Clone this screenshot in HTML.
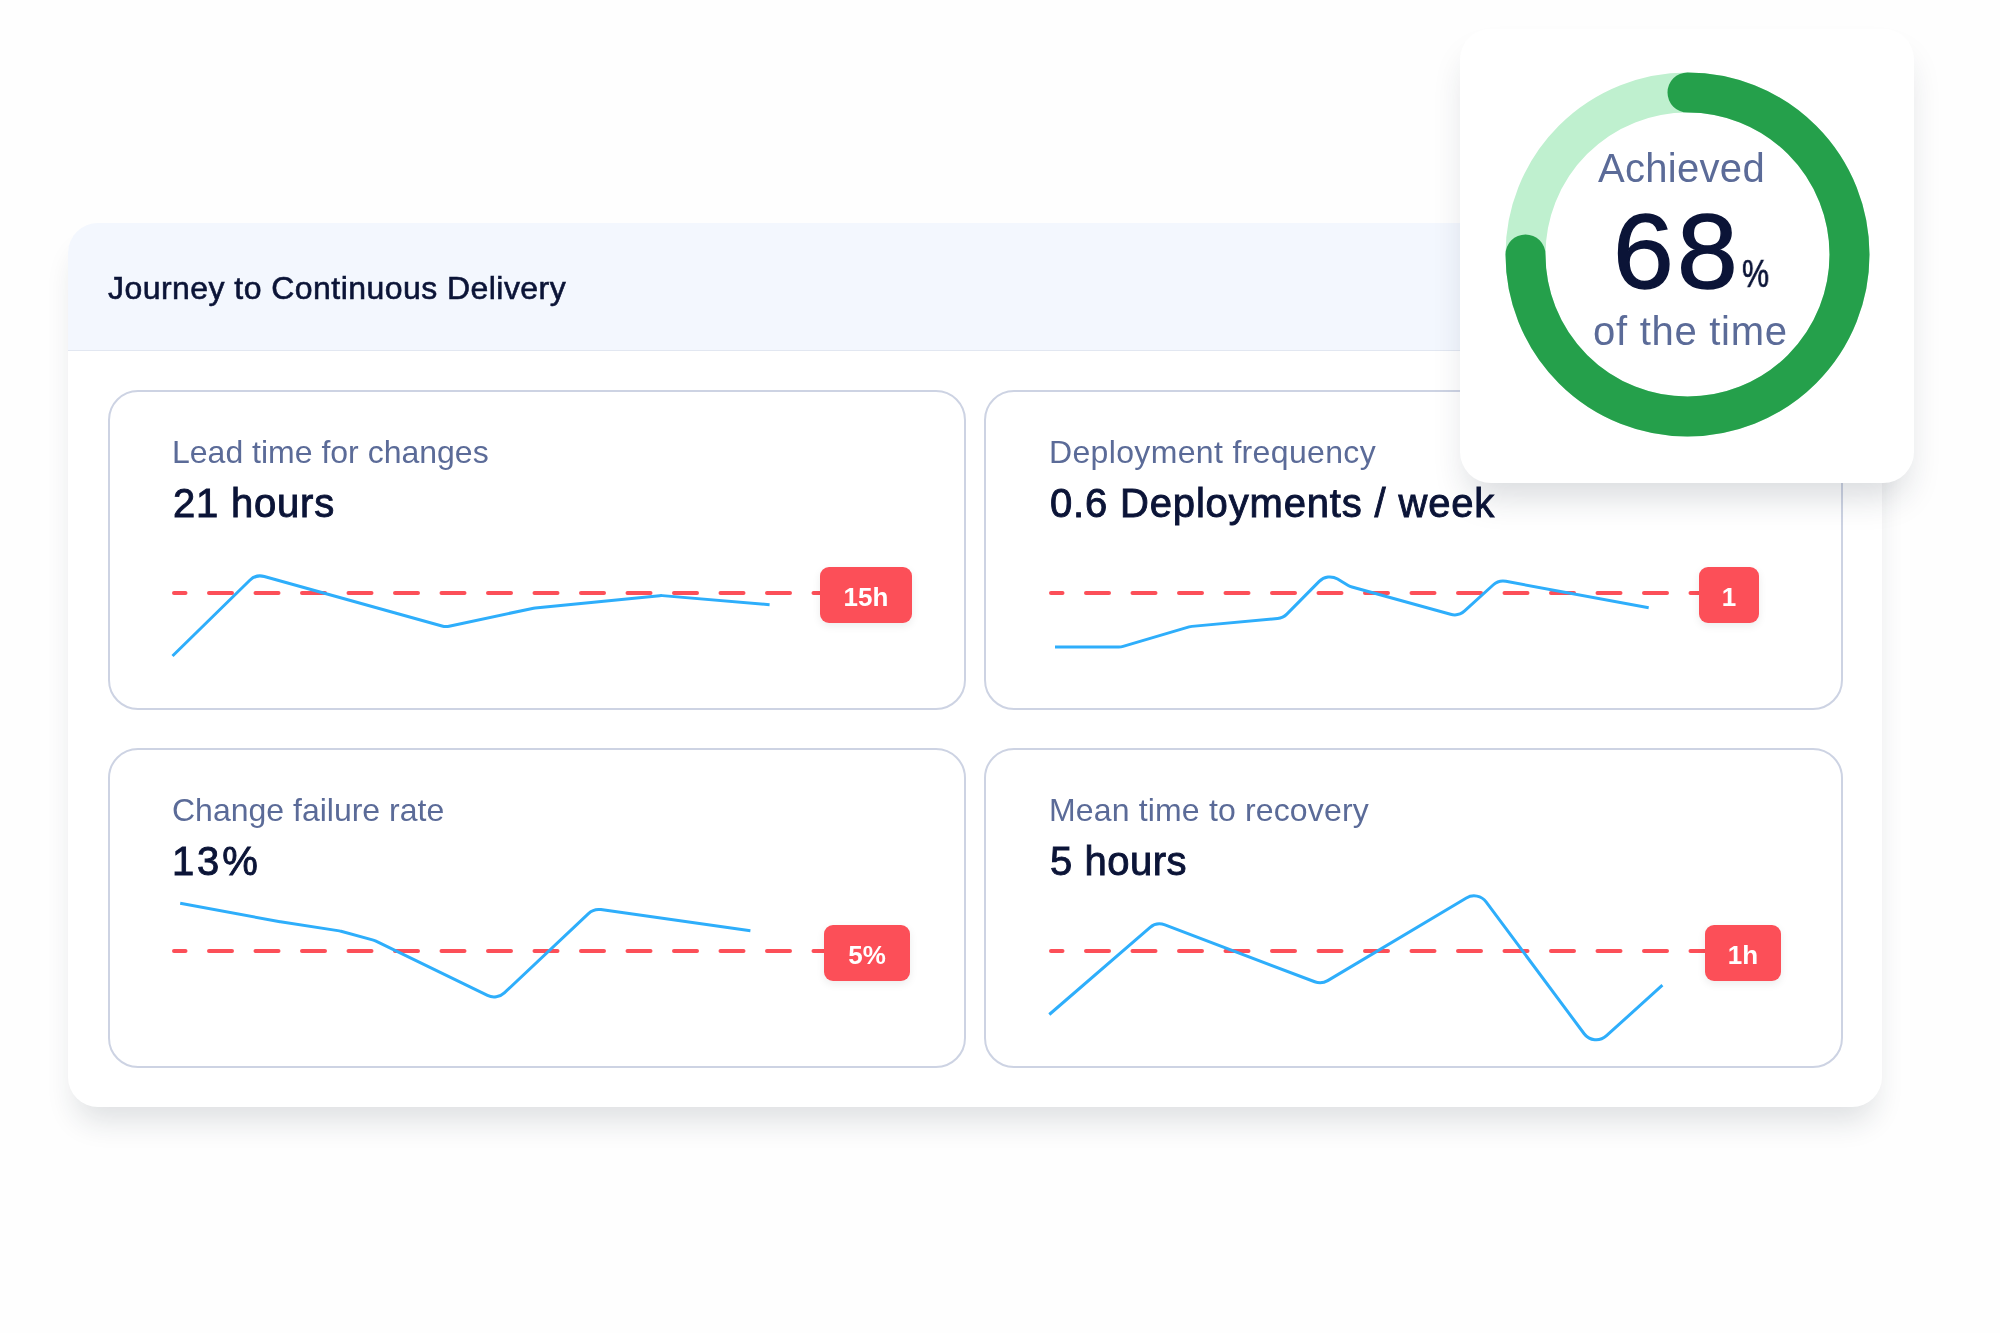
<!DOCTYPE html>
<html>
<head>
<meta charset="utf-8">
<style>
html,body{margin:0;padding:0;}
body{width:2000px;height:1333px;overflow:hidden;background:#fefefe;position:relative;font-family:"Liberation Sans",Arial,sans-serif;}
.ttl,.lbl,.val,.dt,.badge{will-change:transform;}
.main{position:absolute;left:68px;top:223px;width:1814px;height:884px;border-radius:30px;background:#fff;box-shadow:0 22px 30px -8px rgba(30,40,60,0.14);overflow:hidden;}
.hdr{position:absolute;left:0;top:0;width:1814px;height:127px;background:#f3f7fe;border-bottom:1px solid #e2e7f1;}
.ttl{position:absolute;left:40px;top:0;line-height:1;font-size:32px;color:#0b1437;-webkit-text-stroke:0.6px #0b1437;letter-spacing:0.45px;white-space:nowrap;}
.card{position:absolute;box-sizing:border-box;width:858.5px;height:320px;border:2px solid #cdd3e3;border-radius:30px;background:#fff;}
.lbl{position:absolute;font-size:32px;color:#5b6b98;white-space:nowrap;line-height:1;letter-spacing:0px;}
.val{position:absolute;font-size:40px;color:#0b1437;-webkit-text-stroke:0.9px #0b1437;white-space:nowrap;line-height:1;letter-spacing:0.8px;}
.badge{position:absolute;height:56px;border-radius:9px;background:#fc4f58;color:#fff;font-weight:bold;font-size:26px;line-height:60px;text-align:center;box-shadow:0 3px 8px rgba(0,0,0,0.08);}
svg.ch{position:absolute;left:0;top:0;}
.donut{position:absolute;left:1460px;top:29px;width:454px;height:454px;border-radius:31px;background:#fff;box-shadow:0 22px 34px -8px rgba(30,40,60,0.17);}
.dt{position:absolute;white-space:nowrap;line-height:1;}
</style>
</head>
<body>
<div class="main">
  <div class="hdr"></div>
</div>
<div class="ttl" style="left:108px;top:272px;">Journey to Continuous Delivery</div>

<div class="card" style="left:107.5px;top:390px;"></div>
<div class="card" style="left:984px;top:390px;width:859px;"></div>
<div class="card" style="left:107.5px;top:748px;"></div>
<div class="card" style="left:984px;top:748px;width:859px;"></div>

<div class="lbl" style="left:172px;top:436px;">Lead time for changes</div>
<div class="val" style="left:172.5px;top:483px;letter-spacing:0.79px;">21 hours</div>
<div class="lbl" style="left:1049px;top:436px;letter-spacing:0.34px;">Deployment frequency</div>
<div class="val" style="left:1050px;top:483px;letter-spacing:0.83px;">0.6 Deployments / week</div>
<div class="lbl" style="left:172px;top:794px;">Change failure rate</div>
<div class="val" style="left:172px;top:841px;letter-spacing:2.85px;">13%</div>
<div class="lbl" style="left:1048.6px;top:794px;letter-spacing:0.16px;">Mean time to recovery</div>
<div class="val" style="left:1050px;top:841px;letter-spacing:0.53px;">5 hours</div>

<svg class="ch" width="2000" height="1333" viewBox="0 0 2000 1333">
  <g fill="none" stroke="#fc4f58" stroke-width="4" stroke-linecap="round" stroke-dasharray="23 23.5" stroke-dashoffset="11.5">
    <path d="M174 593H860"/>
    <path d="M1051 593H1720"/>
    <path d="M174 951H860"/>
    <path d="M1051 951H1740"/>
  </g>
  <g fill="none" stroke="#2eaefb" stroke-width="3" stroke-linejoin="round">
    <path d="M172.50 656.00L249.82 580.26A15.00 15.00 0 0 1 264.34 576.52L441.95 626.01A15.00 15.00 0 0 0 449.11 626.23L533.58 608.18A15.00 15.00 0 0 1 535.24 607.92L659.63 595.64A15.00 15.00 0 0 1 662.37 595.62L769.60 604.70"/>
    <path d="M1055.00 647.00L1118.83 647.00A15.00 15.00 0 0 0 1123.08 646.39L1189.09 626.92A15.00 15.00 0 0 1 1191.96 626.37L1277.55 618.50A15.00 15.00 0 0 0 1286.85 614.11L1319.22 581.38A15.00 15.00 0 0 1 1337.60 579.06L1348.25 585.45A15.00 15.00 0 0 0 1351.97 587.04L1450.52 614.29A15.00 15.00 0 0 0 1464.62 610.93L1493.10 585.01A15.00 15.00 0 0 1 1505.92 581.35L1648.70 607.70"/>
    <path d="M180.20 903.20L279.97 921.76A15.00 15.00 0 0 0 280.44 921.84L339.33 930.87A15.00 15.00 0 0 1 341.04 931.23L373.36 940.13A15.00 15.00 0 0 1 375.95 941.11L487.48 995.46A15.00 15.00 0 0 0 504.34 992.89L588.45 913.55A15.00 15.00 0 0 1 600.85 909.61L750.40 930.80"/>
    <path d="M1049.30 1014.50L1149.84 927.64A15.00 15.00 0 0 1 1164.96 924.97L1314.73 981.73A15.00 15.00 0 0 0 1327.72 980.59L1466.36 897.94A15.00 15.00 0 0 1 1486.08 901.87L1584.15 1033.76A15.00 15.00 0 0 0 1606.25 1035.94L1662.40 985.20"/>
  </g>
</svg>

<div class="badge" style="left:820px;top:567px;width:92px;">15h</div>
<div class="badge" style="left:1699px;top:567px;width:60px;">1</div>
<div class="badge" style="left:824px;top:925px;width:86px;">5%</div>
<div class="badge" style="left:1705px;top:925px;width:76px;">1h</div>

<div class="donut">
  <svg width="454" height="454" viewBox="0 0 454 454" style="position:absolute;left:0;top:0;">
    <circle cx="227.5" cy="225.5" r="162" fill="none" stroke="#bff0cf" stroke-width="40"/>
    <path d="M227.5 63.5A162 162 0 1 1 65.5 225.5" fill="none" stroke="#25a04b" stroke-width="40" stroke-linecap="round"/>
  </svg>
</div>
<div class="dt" style="left:1598px;top:148px;font-size:40px;color:#5b6b98;letter-spacing:0.3px;">Achieved</div>
<div class="dt" style="left:1613px;top:199px;font-size:105px;color:#0b1437;-webkit-text-stroke:1.4px #0b1437;transform:scaleX(1.04);transform-origin:0 0;">6</div>
<div class="dt" style="left:1677px;top:199px;font-size:105px;color:#0b1437;-webkit-text-stroke:1.4px #0b1437;transform:scaleX(1.04);transform-origin:0 0;">8</div>
<div class="dt" style="left:1742px;top:255px;font-size:38px;color:#0b1437;-webkit-text-stroke:0.7px #0b1437;transform:scaleX(0.8);transform-origin:0 0;">%</div>
<div class="dt" style="left:1593px;top:311px;font-size:40px;color:#5b6b98;letter-spacing:0.72px;">of the time</div>
</body>
</html>
